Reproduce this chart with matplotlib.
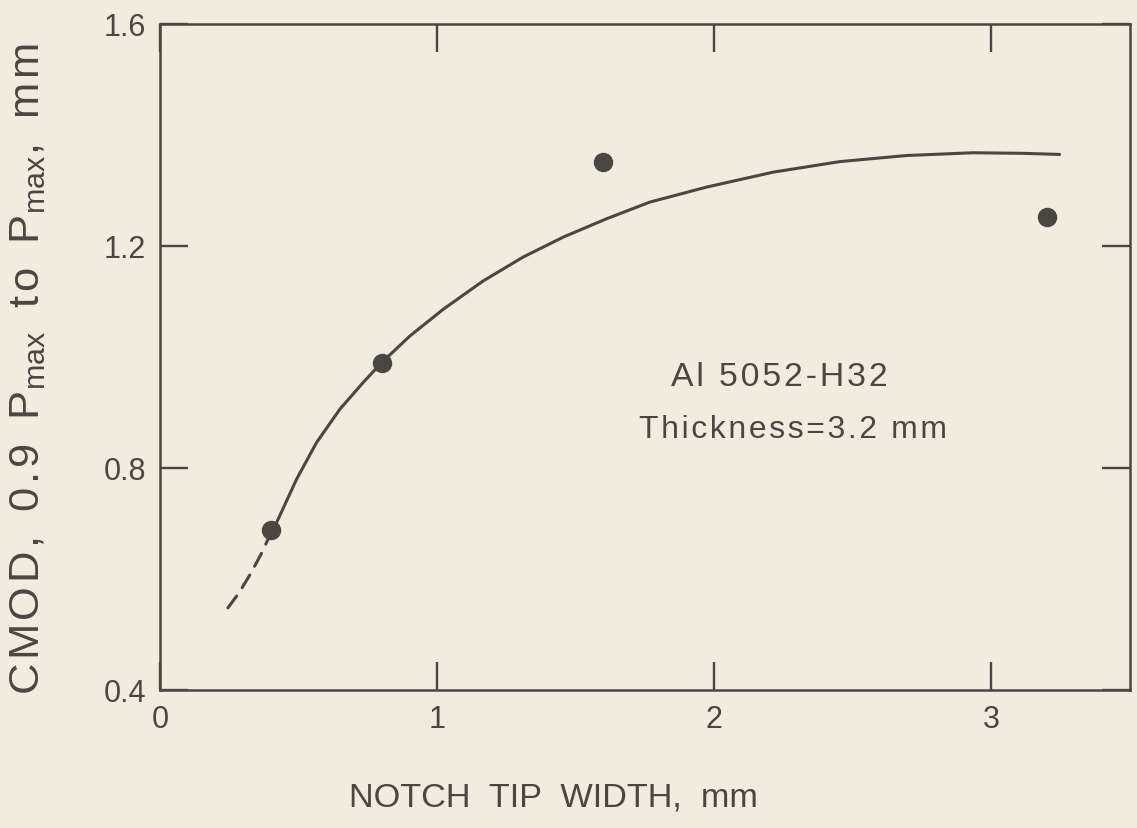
import matplotlib
matplotlib.use("Agg")
import matplotlib.pyplot as plt

# Data
pts_x = [0.4, 0.8, 1.6, 3.2]
pts_y = [0.689, 0.990, 1.351, 1.252]

dash_x = [0.245, 0.285, 0.325, 0.365, 0.406]
dash_y = [0.548, 0.575, 0.608, 0.645, 0.689]

curve_x = [0.406, 0.421, 0.493, 0.565, 0.649, 0.733, 0.800, 0.902, 1.022, 1.166,
           1.310, 1.455, 1.611, 1.767, 1.971, 2.212, 2.452, 2.693, 2.933, 3.113, 3.246]
curve_y = [0.689, 0.702, 0.780, 0.846, 0.906, 0.954, 0.990, 1.038, 1.086, 1.137,
           1.180, 1.216, 1.249, 1.279, 1.306, 1.333, 1.352, 1.363, 1.368, 1.367, 1.365]

xticks = [0, 1, 2, 3]
xticklabels = ["0", "1", "2", "3"]
yticks = [0.4, 0.8, 1.2, 1.6]
yticklabels = ["0.4", "0.8", "1.2", "1.6"]

BG = "#f1ecdf"
INK = "#4a4642"
W, H = 1137, 829

plt.rcParams["font.family"] = ["Liberation Sans", "DejaVu Sans"]
plt.rcParams["mathtext.fontset"] = "custom"
plt.rcParams["mathtext.rm"] = "Liberation Sans"

HS = "\u200a"   # hair space for light letter tracking


def track(s, sp):
    return sp.join(list(s))


fig = plt.figure(figsize=(W / 100, H / 100), dpi=100, facecolor=BG)
ax = fig.add_axes([160 / W, 1 - 691 / H, (1130 - 160) / W, (691 - 25) / H])
ax.set_facecolor(BG)

ax.plot(curve_x, curve_y, color=INK, lw=2.2, solid_capstyle="round", solid_joinstyle="round")
ax.plot(dash_x, dash_y, color=INK, lw=2.2, dashes=(4.8, 3.3), dash_capstyle="round")
ax.plot(pts_x, pts_y, "o", color=INK, ms=13, mec=INK)

ax.set_xlim(0, 3.5)
ax.set_ylim(0.4, 1.6)
ax.set_xticks(xticks)
ax.set_xticklabels(xticklabels)
ax.set_yticks(yticks)
ax.set_yticklabels(yticklabels)

for s in ax.spines.values():
    s.set_color(INK)
    s.set_linewidth(1.8)

ax.tick_params(axis="both", which="both", direction="in", length=20, width=1.7,
               color=INK, labelcolor=INK, labelsize=22, top=True, right=True)
ax.tick_params(axis="x", pad=10)
ax.tick_params(axis="y", pad=10)

t1 = ax.text(2.236, 0.964, track("Al 5052-H32", HS), color=INK, fontsize=22,
             ha="center", va="center")
t2 = ax.text(2.283, 0.870, track("Thickness=3.2 mm", HS), color=INK, fontsize=22,
             ha="center", va="center")

xl = fig.text(553 / W, 1 - 798 / H, "NOTCH  TIP  WIDTH,  mm",
              color=INK, fontsize=24, ha="center", va="center")

ylab = (track("CMOD,", HS) + "  " + track("0.9", HS) + "  P$_{\\mathrm{max}}$  "
        + track("to", HS) + "  P$_{\\mathrm{max}}$,  " + track("mm", HS))
yl = fig.text(28 / W, 1 - 369 / H, ylab, color=INK, fontsize=26, rotation=90,
              ha="center", va="center")


def fit(t, target, use_height=False):
    fig.canvas.draw()
    bb = t.get_window_extent()
    cur = bb.height if use_height else bb.width
    t.set_fontsize(t.get_fontsize() * target / cur)


fit(t1, 215)
fit(t2, 306)
fit(xl, 410)
fit(yl, 652, use_height=True)

fig.savefig("out.png", dpi=100, facecolor=BG)
